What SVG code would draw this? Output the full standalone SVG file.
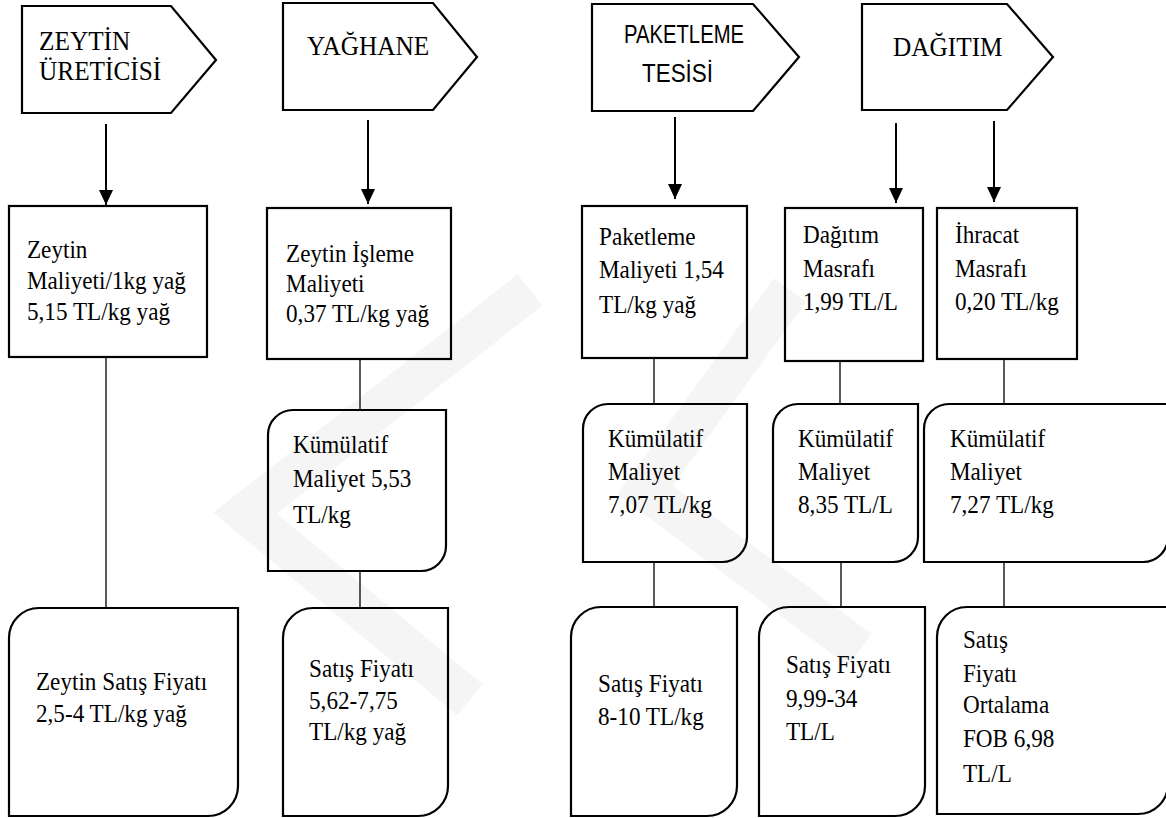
<svg xmlns="http://www.w3.org/2000/svg" width="1166" height="818" viewBox="0 0 1166 818">
<style>
  .hdr{fill:#fff;stroke:#000;stroke-width:2.2}
  .box{fill:none;stroke:#000;stroke-width:2.2}
  .t{font-family:'Liberation Serif','Times New Roman',serif;font-size:25.2px;fill:#000}
  .th{font-family:'Liberation Serif','Times New Roman',serif;font-size:27.5px;fill:#000}
  .ts{font-family:'Liberation Sans',Arial,sans-serif;font-size:25px;fill:#000}
  .ln{stroke:#000;stroke-width:1.3;fill:none}
  .ar{stroke:#000;stroke-width:2;fill:none}
  .wm{stroke:#000;stroke-opacity:0.04;stroke-width:40;fill:none;stroke-linejoin:miter}
</style>
<defs>
  <marker id="ah" markerUnits="userSpaceOnUse" markerWidth="16" markerHeight="14" refX="15" refY="7" orient="auto" viewBox="0 0 16 14">
    <path d="M0,0 L15,7 L0,14 Z" fill="#000"/>
  </marker>
</defs>
<rect width="1166" height="818" fill="#fff"/>

<g id="watermark">
  <path class="wm" d="M530,290 L245,513 L470,700"/>
  <path class="wm" d="M790,290 L645,490 L860,650"/>
</g>

<g id="connectors">
  <line class="ar" x1="106" y1="124" x2="106" y2="205" marker-end="url(#ah)"/>
  <line class="ar" x1="368" y1="120" x2="368" y2="204" marker-end="url(#ah)"/>
  <line class="ar" x1="675" y1="117" x2="675" y2="199" marker-end="url(#ah)"/>
  <line class="ar" x1="896" y1="123" x2="896" y2="203" marker-end="url(#ah)"/>
  <line class="ar" x1="994" y1="121" x2="994" y2="202" marker-end="url(#ah)"/>
  <line class="ln" x1="106" y1="357" x2="106" y2="608"/>
  <line class="ln" x1="360" y1="359" x2="360" y2="410"/>
  <line class="ln" x1="360" y1="571" x2="360" y2="608"/>
  <line class="ln" x1="654" y1="358" x2="654" y2="404"/>
  <line class="ln" x1="654" y1="562" x2="654" y2="607"/>
  <line class="ln" x1="840" y1="361" x2="840" y2="404"/>
  <line class="ln" x1="841" y1="562" x2="841" y2="607"/>
  <line class="ln" x1="1004" y1="359" x2="1004" y2="404"/>
  <line class="ln" x1="1004" y1="562" x2="1004" y2="607"/>
</g>

<g id="h1">
  <polygon class="hdr" points="22,6 171,6 216,60 171,113 22,113"/>
  <g transform="scale(0.92,1)">
    <text class="th" x="42.4" y="50">ZEYTİN</text>
    <text class="th" x="42.4" y="80">ÜRETİCİSİ</text>
  </g>
</g>
<g id="h2">
  <polygon class="hdr" points="283,3 433,3 477,57 433,110 283,110"/>
  <g transform="scale(0.92,1)">
    <text class="th" x="333.7" y="55">YAĞHANE</text>
  </g>
</g>
<g id="h3">
  <polygon class="hdr" points="592,4 753,4 799,57 753,111 592,111"/>
  <text class="ts" x="624" y="43" textLength="120" lengthAdjust="spacingAndGlyphs">PAKETLEME</text>
  <text class="ts" x="642" y="82" textLength="71" lengthAdjust="spacingAndGlyphs">TESİSİ</text>
</g>
<g id="h4">
  <polygon class="hdr" points="862,4 1007,4 1053,57 1007,110 862,110"/>
  <g transform="scale(0.92,1)">
    <text class="th" x="970.7" y="56">DAĞITIM</text>
  </g>
</g>

<g id="b1">
  <rect class="box" x="9" y="206" width="198" height="151"/>
  <g transform="scale(0.92,1)">
    <text class="t" x="29.3" y="258">Zeytin</text>
    <text class="t" x="29.3" y="289">Maliyeti/1kg yağ</text>
    <text class="t" x="29.3" y="320">5,15 TL/kg yağ</text>
  </g>
</g>
<g id="b2">
  <rect class="box" x="267" y="208" width="184" height="151"/>
  <g transform="scale(0.92,1)">
    <text class="t" x="310.9" y="262">Zeytin İşleme</text>
    <text class="t" x="310.9" y="292">Maliyeti</text>
    <text class="t" x="310.9" y="322">0,37 TL/kg yağ</text>
  </g>
</g>
<g id="b3">
  <rect class="box" x="582" y="206" width="165" height="152"/>
  <g transform="scale(0.92,1)">
    <text class="t" x="651.1" y="245">Paketleme</text>
    <text class="t" x="651.1" y="278">Maliyeti 1,54</text>
    <text class="t" x="651.1" y="313">TL/kg yağ</text>
  </g>
</g>
<g id="b4a">
  <rect class="box" x="785" y="208" width="138" height="153"/>
  <g transform="scale(0.92,1)">
    <text class="t" x="872.8" y="243">Dağıtım</text>
    <text class="t" x="872.8" y="277">Masrafı</text>
    <text class="t" x="872.8" y="310">1,99 TL/L</text>
  </g>
</g>
<g id="b4b">
  <rect class="box" x="937" y="208" width="140" height="151"/>
  <g transform="scale(0.92,1)">
    <text class="t" x="1038" y="243">İhracat</text>
    <text class="t" x="1038" y="277">Masrafı</text>
    <text class="t" x="1038" y="310">0,20 TL/kg</text>
  </g>
</g>

<g id="k2">
  <path class="box" d="M293,410 H446 V546 A25,25 0 0 1 421,571 H268 V435 A25,25 0 0 1 293,410 Z"/>
  <g transform="scale(0.92,1)">
    <text class="t" x="318.5" y="453">Kümülatif</text>
    <text class="t" x="318.5" y="487">Maliyet 5,53</text>
    <text class="t" x="318.5" y="523">TL/kg</text>
  </g>
</g>
<g id="k3">
  <path class="box" d="M608,404 H747 V537 A25,25 0 0 1 722,562 H583 V429 A25,25 0 0 1 608,404 Z"/>
  <g transform="scale(0.92,1)">
    <text class="t" x="660.9" y="447">Kümülatif</text>
    <text class="t" x="660.9" y="480">Maliyet</text>
    <text class="t" x="660.9" y="513">7,07 TL/kg</text>
  </g>
</g>
<g id="k4a">
  <path class="box" d="M798,404 H918 V537 A25,25 0 0 1 893,562 H773 V429 A25,25 0 0 1 798,404 Z"/>
  <g transform="scale(0.92,1)">
    <text class="t" x="867.4" y="447">Kümülatif</text>
    <text class="t" x="867.4" y="480">Maliyet</text>
    <text class="t" x="867.4" y="513">8,35 TL/L</text>
  </g>
</g>
<g id="k4b">
  <path class="box" d="M949,404 H1168 V537 A25,25 0 0 1 1143,562 H924 V429 A25,25 0 0 1 949,404 Z"/>
  <g transform="scale(0.92,1)">
    <text class="t" x="1032.6" y="447">Kümülatif</text>
    <text class="t" x="1032.6" y="480">Maliyet</text>
    <text class="t" x="1032.6" y="513">7,27 TL/kg</text>
  </g>
</g>

<g id="s1">
  <path class="box" d="M39,608 H238 V786 A30,30 0 0 1 208,816 H9 V638 A30,30 0 0 1 39,608 Z"/>
  <g transform="scale(0.92,1)">
    <text class="t" x="39.1" y="690">Zeytin Satış Fiyatı</text>
    <text class="t" x="39.1" y="722">2,5-4 TL/kg yağ</text>
  </g>
</g>
<g id="s2">
  <path class="box" d="M313,608 H448 V786 A30,30 0 0 1 418,816 H283 V638 A30,30 0 0 1 313,608 Z"/>
  <g transform="scale(0.92,1)">
    <text class="t" x="335.9" y="677">Satış Fiyatı</text>
    <text class="t" x="335.9" y="709">5,62-7,75</text>
    <text class="t" x="335.9" y="740">TL/kg yağ</text>
  </g>
</g>
<g id="s3">
  <path class="box" d="M601,607 H737 V786 A30,30 0 0 1 707,816 H571 V637 A30,30 0 0 1 601,607 Z"/>
  <g transform="scale(0.92,1)">
    <text class="t" x="650" y="692">Satış Fiyatı</text>
    <text class="t" x="650" y="725">8-10 TL/kg</text>
  </g>
</g>
<g id="s4a">
  <path class="box" d="M789,607 H925 V786 A30,30 0 0 1 895,816 H759 V637 A30,30 0 0 1 789,607 Z"/>
  <g transform="scale(0.92,1)">
    <text class="t" x="854.3" y="673">Satış Fiyatı</text>
    <text class="t" x="854.3" y="707">9,99-34</text>
    <text class="t" x="854.3" y="740">TL/L</text>
  </g>
</g>
<g id="s4b">
  <path class="box" d="M967,607 H1168 V784 A30,30 0 0 1 1138,814 H937 V637 A30,30 0 0 1 967,607 Z"/>
  <g transform="scale(0.92,1)">
    <text class="t" x="1046.7" y="648">Satış</text>
    <text class="t" x="1046.7" y="682">Fiyatı</text>
    <text class="t" x="1046.7" y="713">Ortalama</text>
    <text class="t" x="1046.7" y="747">FOB 6,98</text>
    <text class="t" x="1046.7" y="782">TL/L</text>
  </g>
</g>
</svg>
